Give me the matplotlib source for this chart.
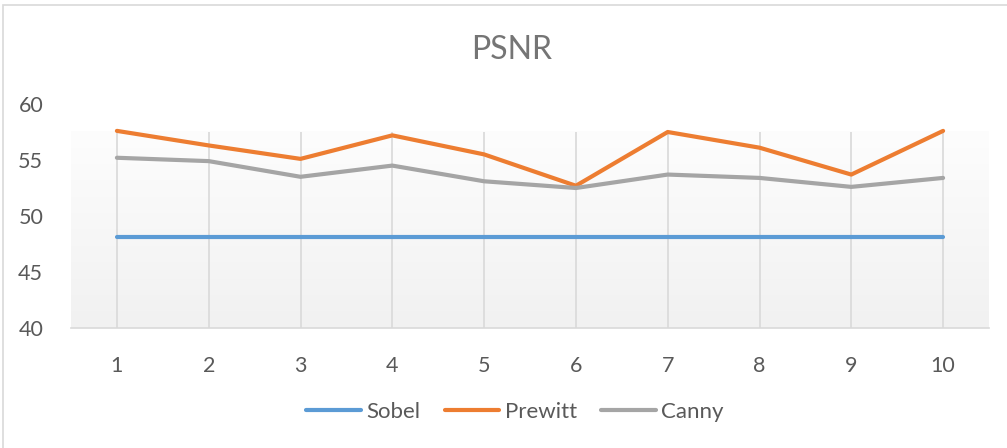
import matplotlib
matplotlib.use('Agg')
import matplotlib.pyplot as plt
import numpy as np
from matplotlib.patches import Rectangle

# PSNR values
images = [1, 2, 3, 4, 5, 6, 7, 8, 9, 10]
sobel = [48.1, 48.1, 48.1, 48.1, 48.1, 48.1, 48.1, 48.1, 48.1, 48.1]
prewitt = [57.6, 56.3, 55.1, 57.2, 55.5, 52.7, 57.5, 56.1, 53.7, 57.6]
canny = [55.2, 54.9, 53.5, 54.5, 53.1, 52.5, 53.7, 53.4, 52.6, 53.4]
y_ticks = [40, 45, 50, 55, 60]

plt.rcParams['font.family'] = ['Lato', 'DejaVu Sans']

fig = plt.figure(figsize=(10.07, 4.48), dpi=100)
ax = fig.add_axes([71 / 1007, 120 / 448, 918 / 1007, 224 / 448])

# chart border (only top/left visible in the crop)
fig.patches.append(Rectangle((3 / 1007, -0.1), 1.2, (443 / 448) + 0.1,
                             transform=fig.transFigure, fill=False,
                             edgecolor='#d9d9d9', linewidth=1.2))

# gradient fill of the inner plot area (stops a bit under 60)
fill_top = 57.5
grad = np.linspace(0, 1, 256).reshape(-1, 1)
ax.imshow(grad, extent=[0.5, 10.5, 40, fill_top], aspect='auto', origin='upper',
          cmap=matplotlib.colors.LinearSegmentedColormap.from_list(
              'g', ['#fdfdfd', '#f1f1f1']), zorder=0)

ax.plot(images, sobel, color='#5B9BD5', lw=3, label='Sobel', solid_capstyle='round', zorder=3)
ax.plot(images, prewitt, color='#ED7D31', lw=3, label='Prewitt', solid_capstyle='round', zorder=3)
ax.plot(images, canny, color='#A5A5A5', lw=3, label='Canny', solid_capstyle='round', zorder=3)

ax.vlines(images, 40, fill_top, color='#d9d9d9', lw=1.2, zorder=1)

ax.set_xlim(0.5, 10.5)
ax.set_ylim(40, 60)
ax.set_xticks(images)
ax.set_yticks(y_ticks)
ax.tick_params(axis='both', length=0, labelsize=15.5, labelcolor='#595959')
ax.tick_params(axis='x', pad=20)
ax.tick_params(axis='y', pad=20)

for s in ['top', 'right', 'left']:
    ax.spines[s].set_visible(False)
ax.spines['bottom'].set_color('#d9d9d9')
ax.spines['bottom'].set_linewidth(1.2)

fig.text(512 / 1007, 1 - 50 / 448, 'PSNR', ha='center', va='center',
         fontsize=23, color='#757575')

fig.legend(loc='center', bbox_to_anchor=(515 / 1007, 1 - 412 / 448), ncol=3,
           frameon=False, fontsize=16, handlelength=2.45, handletextpad=0.25,
           columnspacing=1.1, labelcolor='#595959')

fig.savefig('out.png', dpi=100)
